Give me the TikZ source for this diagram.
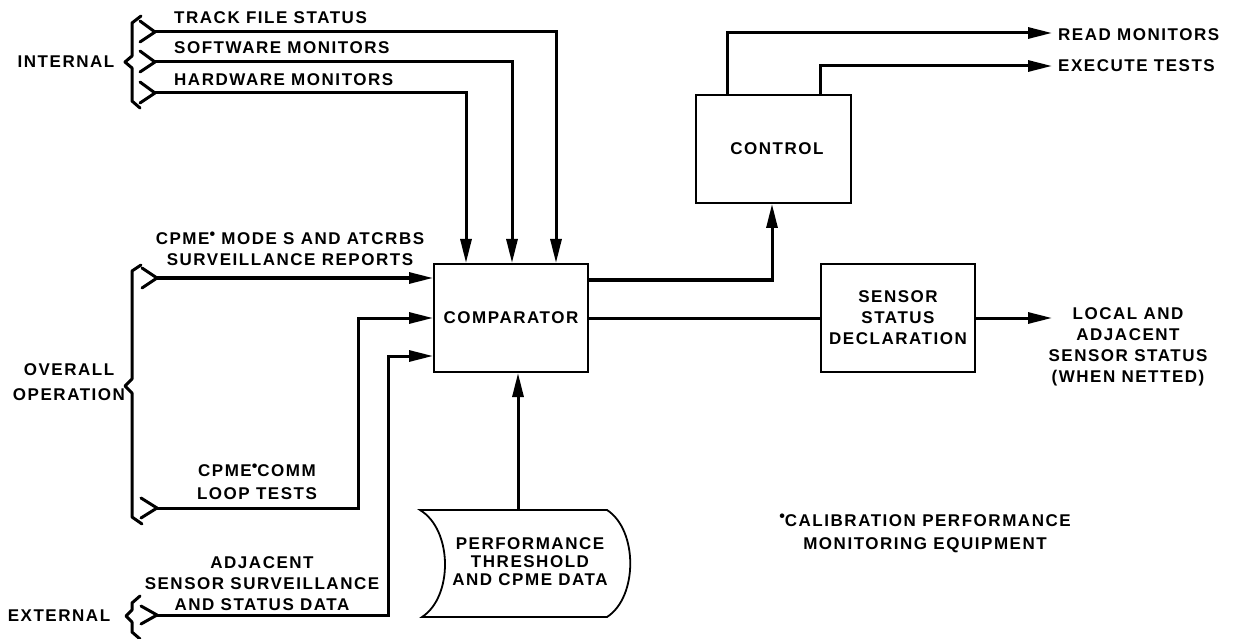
\documentclass[tikz,border=0pt]{standalone}
\usepackage{fontspec}
\setmainfont{Liberation Sans}[LetterSpace=9]
\usetikzlibrary{arrows.meta}
\newcommand{\cpmedot}{\raisebox{5pt}{\fontsize{16}{16}\selectfont\textbullet}}
\begin{document}
\begin{tikzpicture}[x=1pt,y=-1pt,
  font=\fontsize{17}{21}\selectfont\bfseries,
  box/.style={draw, line width=2pt, minimum width=154pt, minimum height=108pt, align=center, inner sep=0pt},
  conn/.style={line width=3pt},
  arr/.style={conn, -{Triangle[length=24pt,width=11pt]}},
  bracestyle/.style={line width=3pt, line join=round, line cap=round},
  lbl/.style={align=center, inner sep=0pt}]
\path[fill=white, use as bounding box] (0,0) rectangle (1240,639);

% boxes
\node[box] (comp) at (511,318) {COMPARATOR};
\node[box, minimum width=155pt] (control) at (773.5,149) {\hspace*{7pt}CONTROL};
\node[box] (sensor) at (898,318) {SENSOR\\STATUS\\DECLARATION};

% stored data shape
\draw[line width=1.8pt] (420,510) -- (607,510) .. controls (638,530) and (638,597) .. (607,617)
  -- (422,617) .. controls (453,597) and (453,530) .. (420,510) -- cycle;
\node[lbl, font=\fontsize{17}{18}\selectfont\bfseries] (data) at (530,562) {PERFORMANCE\\THRESHOLD\\AND CPME DATA};
\coordinate (dtop) at (518,510);
\draw[arr] (dtop) -- (dtop |- comp.south);

% internal brace
\draw[bracestyle] (141,16) -- (132,23) -- (132,56) -- (125,62) -- (132,68) -- (132,101) -- (140,108);
\draw[bracestyle] (140,21) -- (155,32) -- (140,42);
\draw[bracestyle] (140,51) -- (155,62) -- (140,72);
\draw[bracestyle] (140,82) -- (155,93) -- (140,103);
\node[lbl] (internal) at (66,62) {INTERNAL};

\coordinate (ts) at (155,32);
\coordinate (sw) at (155,62);
\coordinate (hw) at (155,93);
\node[lbl, anchor=west] (tsl) at (174,18) {TRACK FILE STATUS};
\node[lbl, anchor=west] (swl) at (174,48) {SOFTWARE MONITORS};
\node[lbl, anchor=west] (hwl) at (174,80) {HARDWARE MONITORS};
\draw[arr] (ts) -| ([xshift=45pt]comp.north);
\draw[arr] (sw) -| ([xshift=1pt]comp.north);
\draw[arr] (hw) -| ([xshift=-45pt]comp.north);

% overall operation brace
\draw[bracestyle] (141,265) -- (132,271) -- (132,379) -- (125,386) -- (132,393) -- (132,517) -- (142,524);
\draw[bracestyle] (142,268) -- (157,278) -- (142,288);
\draw[bracestyle] (141,498) -- (157,508) -- (141,518);
\node[lbl] (overall) at (69,382) {OVERALL\\[4pt]OPERATION};

\coordinate (cp) at (157,278);
\coordinate (lp) at (157,508);
\node[lbl] (cpl) at (290,249) {CPME\cpmedot{} MODE S AND ATCRBS\\SURVEILLANCE REPORTS};
\node[lbl, font=\fontsize{17}{23}\selectfont\bfseries] (lpl) at (257,482) {CPME\cpmedot COMM\\LOOP TESTS};
\draw[arr] (cp) -- ([yshift=40pt]comp.west);
\draw[arr] (lp) -- ++(201,0) |- (comp.west);

% external brace
\draw[bracestyle] (140,596) -- (132,603) -- (132,610) -- (126,616) -- (132,622) -- (132,632) -- (140,639);
\draw[bracestyle] (141,606) -- (157,615) -- (141,624);
\node[lbl] (external) at (59,616) {EXTERNAL};
\coordinate (ex) at (157,615);
\node[lbl] (exl) at (262,584) {ADJACENT\\SENSOR SURVEILLANCE\\AND STATUS DATA};
\draw[arr] (ex) -- ++(231,0) |- ([yshift=-38pt]comp.west);

% outputs
\draw[arr] ([yshift=38pt]comp.east) -| ([xshift=-1.5pt]control.south);
\draw[conn] (comp.east) -- (sensor.west);
\coordinate (so) at (1052,318);
\draw[arr] (sensor.east) -- (so);
\node[lbl] (sol) at (1128,347) {LOCAL AND\\ADJACENT\\SENSOR STATUS\\(WHEN NETTED)};

\coordinate (rm) at (1052,33);
\coordinate (et) at (1052,66);
\draw[arr] ([xshift=-46.5pt]control.north) |- (rm);
\draw[arr] ([xshift=46.5pt]control.north) |- (et);
\node[lbl, anchor=west] (rml) at (1058,35) {READ MONITORS};
\node[lbl, anchor=west] (etl) at (1058,66) {EXECUTE TESTS};

% footnote
\node[lbl, font=\fontsize{17}{23}\selectfont\bfseries] (foot) at (925,533) {\cpmedot CALIBRATION PERFORMANCE\\MONITORING EQUIPMENT};
\end{tikzpicture}
\end{document}
